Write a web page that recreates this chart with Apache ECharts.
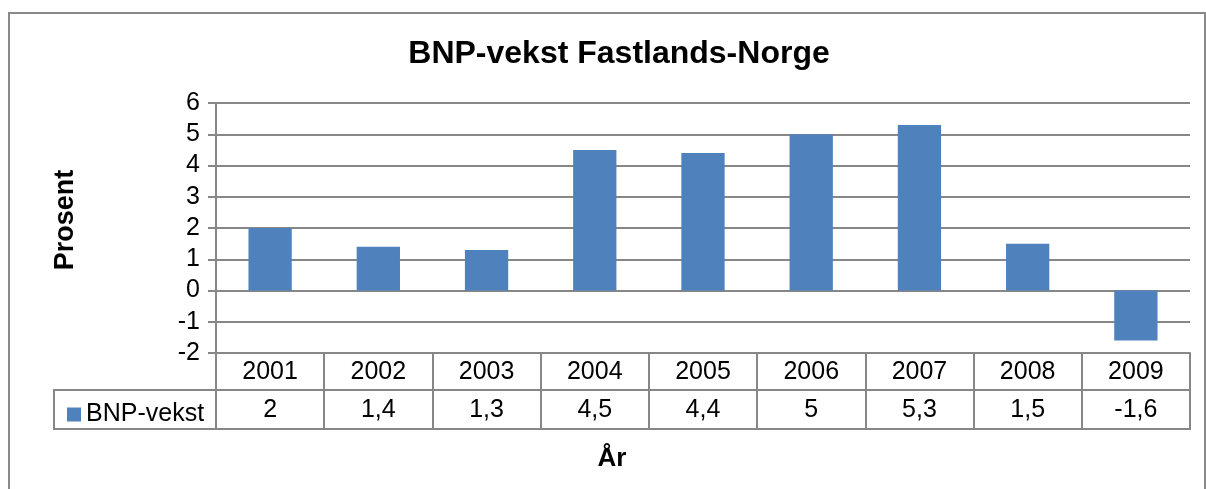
<!DOCTYPE html>
<html>
<head>
<meta charset="utf-8">
<script src="https://cdn.jsdelivr.net/npm/echarts@6/dist/echarts.min.js"></script>
<style>
  html, body { margin: 0; padding: 0; background: #fff; }
  #chart { width: 1206px; height: 489px; }
</style>
</head>
<body>
<div id="chart"></div>
<script>
// data
const years = ["2001", "2002", "2003", "2004", "2005", "2006", "2007", "2008", "2009"];
const bnpVekst = [2, 1.4, 1.3, 4.5, 4.4, 5, 5.3, 1.5, -1.6];
const yTicks = [-2, -1, 0, 1, 2, 3, 4, 5, 6];

const fmt = (v) => String(v).replace(".", ",");
const FONT = "Liberation Sans, Arial, sans-serif";
const lineColor = "#878787";

const chart = echarts.init(document.getElementById("chart"));

const option = {
  backgroundColor: "#FFFFFF",
  animation: false,
  textStyle: { fontFamily: FONT, color: "#000" },
  title: {
    text: "BNP-vekst Fastlands-Norge",
    left: 614,
    textAlign: "center",
    top: 33,
    textStyle: { fontSize: 32, fontWeight: "bold", color: "#000", fontFamily: FONT },
  },
  legend: {
    left: 62,
    top: 397,
    icon: "rect",
    itemWidth: 14,
    itemHeight: 14,
    itemGap: 5,
    textStyle: { fontSize: 25, color: "#000", fontFamily: FONT },
    data: ["BNP-vekst"],
  },
  grid: { left: 216, right: 16, top: 103, height: 250 },
  xAxis: [
    {
      type: "category",
      data: years,
      position: "bottom",
      axisLine: { onZero: false, lineStyle: { color: lineColor, width: 2 } },
      axisTick: { show: true, length: 37, interval: 0, lineStyle: { color: lineColor, width: 2 } },
      axisLabel: { fontSize: 25, color: "#000", margin: 7, fontFamily: FONT },
    },
    {
      type: "category",
      data: years,
      position: "bottom",
      offset: 37,
      axisLine: { onZero: false, lineStyle: { color: lineColor, width: 2 } },
      axisTick: { show: true, length: 39, interval: 0, lineStyle: { color: lineColor, width: 2 } },
      axisLabel: {
        fontSize: 25,
        color: "#000",
        margin: 8,
        fontFamily: FONT,
        formatter: (v, i) => fmt(bnpVekst[i]),
      },
    },
  ],
  yAxis: {
    type: "value",
    min: yTicks[0],
    max: yTicks[yTicks.length - 1],
    interval: 1,
    axisLine: { show: true, lineStyle: { color: lineColor, width: 2 } },
    axisTick: { show: true, length: 8, lineStyle: { color: lineColor, width: 2 } },
    axisLabel: { fontSize: 25, color: "#000", margin: 16, fontFamily: FONT },
    splitLine: { lineStyle: { color: lineColor, width: 2 } },
  },
  graphic: [
    {
      type: "rect",
      shape: { x: 9, y: 13, width: 1196, height: 520 },
      style: { fill: "none", stroke: "#8a8a8a", lineWidth: 2 },
      silent: true,
    },
    {
      type: "rect",
      shape: { x: 54, y: 390, width: 1136, height: 39 },
      style: { fill: "none", stroke: lineColor, lineWidth: 2 },
      silent: true,
    },
    {
      type: "text",
      x: 66,
      y: 220,
      rotation: Math.PI / 2,
      style: {
        text: "Prosent",
        font: "bold 27px " + FONT,
        fill: "#000",
        align: "center",
        verticalAlign: "middle",
      },
    },
    {
      type: "text",
      x: 612,
      y: 459,
      style: {
        text: "År",
        font: "bold 26px " + FONT,
        fill: "#000",
        align: "center",
        verticalAlign: "middle",
      },
    },
  ],
  series: [
    {
      name: "BNP-vekst",
      type: "bar",
      xAxisIndex: 0,
      data: bnpVekst,
      barWidth: "40%",
      itemStyle: { color: "#4F81BD" },
    },
  ],
};

chart.setOption(option);
</script>
</body>
</html>
